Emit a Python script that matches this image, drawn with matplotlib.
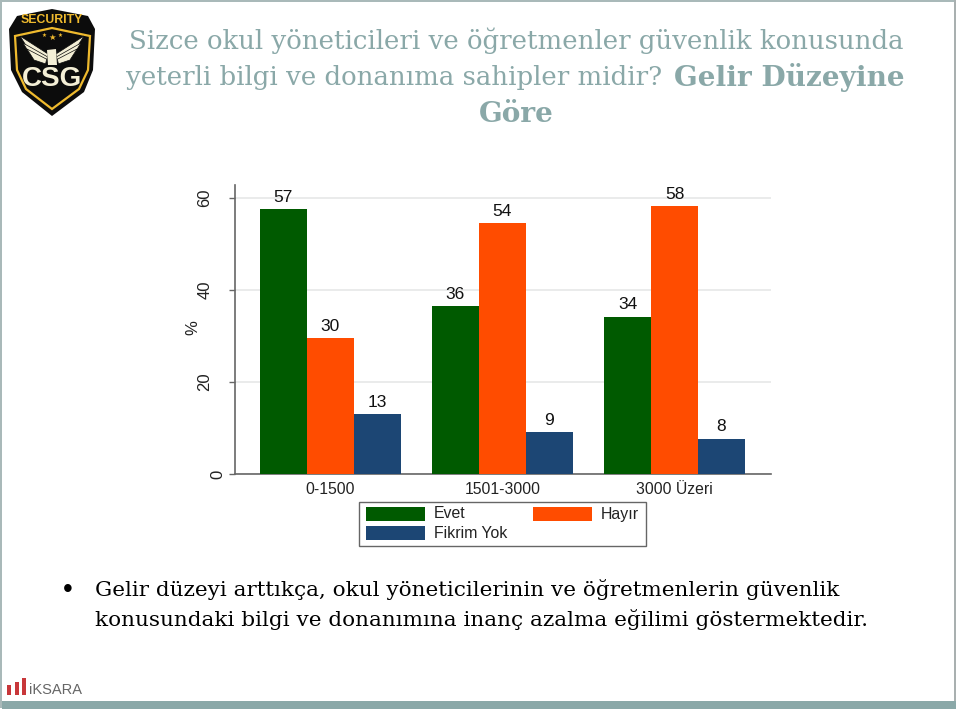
import matplotlib
matplotlib.use("Agg")
import matplotlib.pyplot as plt
from matplotlib.patches import Polygon, Rectangle
from matplotlib.transforms import ScaledTranslation
import numpy as np

# Values
groups = ["0-1500", "1501-3000", "3000 Üzeri"]
evet = [57.5, 36.4, 34.1]
hayir = [29.5, 54.5, 58.2]
fikrim_yok = [13.0, 9.1, 7.6]
evet_labels = ["57", "36", "34"]
hayir_labels = ["30", "54", "58"]
fikrim_yok_labels = ["13", "9", "8"]
y_ticks = [0, 20, 40, 60]

GREEN = "#005a00"
ORANGE = "#ff4c00"
BLUE = "#1c4674"
TITLE_COLOR = "#8aa8a8"
FRAME = "#8aa8a8"
CREAM = "#f4efd6"
GOLD = "#efba2e"

plt.rcParams["font.family"] = ["Liberation Sans", "DejaVu Sans"]

W, H = 960, 712
fig = plt.figure(figsize=(W / 100, H / 100), dpi=100, facecolor="white")

# Overlay in pixel coordinates for the slide decoration and texts
bg = fig.add_axes([0, 0, 1, 1])
bg.set_xlim(0, W)
bg.set_ylim(H, 0)
bg.axis("off")

# Slide frame
bg.add_patch(Rectangle((0, 0), 956, 2, color="#a9b9b9", lw=0))
bg.add_patch(Rectangle((0, 0), 2, 708, color="#a9b9b9", lw=0))
bg.add_patch(Rectangle((954, 0), 2, 708, color="#a9b0b0", lw=0))
bg.add_patch(Rectangle((2, 701), 954, 8, color=FRAME, lw=0))

# CSG logo
shield = [(9, 29), (17, 16), (52, 9), (88, 16), (95, 29), (93, 70), (84, 92), (52, 116), (22, 92), (11, 70)]
bg.add_patch(Polygon(shield, closed=True, fc="#0c0c0c", ec="none"))
inner = [(15, 36), (52, 28), (90, 36), (88, 70), (79, 89), (52, 109), (26, 89), (17, 70)]
bg.add_patch(Polygon(inner, closed=True, fc="none", ec=GOLD, lw=1.6))
bg.text(52, 20, "SECURITY", color=GOLD, fontsize=8.8, fontweight="bold", ha="center", va="center")
for sign in [-1, 1]:
    # Wing feathers, mirrored around the shield centre
    for dx, dy in [(0, 0), (3, 7), (7, 13)]:
        feather = [(52 + sign * (32 - dx), 36 + dy), (52 + sign * (4 + dx * 0.2), 54 + dy * 0.4),
                   (52 + sign * (5 + dx * 0.2), 60 + dy * 0.3), (52 + sign * (25 - dx), 47 + dy)]
        bg.add_patch(Polygon(feather, closed=True, fc=CREAM, ec="#0c0c0c", lw=0.5))
bg.add_patch(Polygon([(47, 50), (56, 49), (57, 65), (48, 65)], closed=True, fc=CREAM, ec="none"))
bg.text(52, 79, "CSG", color=CREAM, fontsize=20, fontweight="bold", ha="center", va="center")
bg.text(52, 37, "★", color=GOLD, fontsize=6, ha="center", va="center", family="DejaVu Sans")
bg.text(44, 35, "★", color=GOLD, fontsize=4, ha="center", va="center", family="DejaVu Sans")
bg.text(60, 35, "★", color=GOLD, fontsize=4, ha="center", va="center", family="DejaVu Sans")

# Title
title_font = dict(color=TITLE_COLOR, family="DejaVu Serif", va="center")
bg.text(516, 41, "Sizce okul yöneticileri ve öğretmenler güvenlik konusunda", fontsize=18.7, ha="center", **title_font)
bg.text(126, 78, "yeterli bilgi ve donanıma sahipler midir?", fontsize=18.7, ha="left", **title_font)
bg.text(905, 78, "Gelir Düzeyine", fontsize=20.1, ha="right", fontweight="bold", **title_font)
bg.text(516, 114, "Göre", fontsize=20.1, ha="center", fontweight="bold", **title_font)

# Bullet text
body_font = dict(color="black", family="DejaVu Serif", fontsize=15.45, va="center", ha="left")
bg.text(63, 590, "•", color="black", fontsize=20, va="center", ha="left")
bg.text(95, 590, "Gelir düzeyi arttıkça, okul yöneticilerinin ve öğretmenlerin güvenlik", **body_font)
bg.text(95, 619, "konusundaki bilgi ve donanımına inanç azalma eğilimi göstermektedir.", **body_font)

# IKSARA logo
logo_heights = [10, 13, 17]
for i, h in enumerate(logo_heights):
    bg.add_patch(Rectangle((7 + i * 7.5, 695 - h), 4, h, color="#c8373a", lw=0))
bg.text(29, 690, "iKSARA", color="#666666", fontsize=10.5, va="center", ha="left")

# Chart
ax = fig.add_axes([235 / W, 1 - 474 / H, (771 - 235) / W, (474 - 185) / H])
ax.set_xlim(-0.555, 2.561)
ax.set_ylim(0, 62.8)

x = np.arange(len(groups))
width = 47 / 172
series = [
    (evet, evet_labels, GREEN, "Evet", -width),
    (hayir, hayir_labels, ORANGE, "Hayır", 0),
    (fikrim_yok, fikrim_yok_labels, BLUE, "Fikrim Yok", width),
]
for values, labels, color, name, offset in series:
    bars = ax.bar(x + offset, values, width, color=color, label=name, zorder=3)
    for bar, label in zip(bars, labels):
        ax.text(bar.get_x() + bar.get_width() / 2, bar.get_height() + 1.0, label,
                ha="center", va="bottom", fontsize=12.5, color="#111111", zorder=4)

ax.set_yticks(y_ticks)
ax.set_yticklabels([str(t) for t in y_ticks], rotation=90, va="center", fontsize=12, color="#222222")
ax.set_xticks(x)
ax.set_xticklabels(groups, fontsize=11.3, color="#222222")
ax.tick_params(axis="x", length=0, pad=6)
ax.tick_params(axis="y", length=4.2, width=1, color="#666666", pad=12)
# The 0 label sits closer to the axis in the original
zero_label = ax.get_yticklabels()[0]
zero_label.set_transform(zero_label.get_transform() + ScaledTranslation(13 / 100, 0, fig.dpi_scale_trans))
ax.grid(axis="y", color="#e4e6e6", lw=1.1, zorder=0)
ax.set_axisbelow(True)
for side in ["top", "right"]:
    ax.spines[side].set_visible(False)
for side in ["left", "bottom"]:
    ax.spines[side].set_color("#666666")
    ax.spines[side].set_linewidth(1.2)
ax.set_ylabel("%", fontsize=12, color="#222222")
ax.yaxis.set_label_coords(-0.064, 0.505)

# Legend box
bg.set_zorder(0)
ax.set_zorder(1)
ax.patch.set_alpha(0)
bg.add_patch(Rectangle((359, 502), 287, 43.5, fc="white", ec="#666666", lw=1.0))
legend_items = [("Evet", GREEN, 366, 507, 434), ("Hayır", ORANGE, 533, 507, 601), ("Fikrim Yok", BLUE, 366, 526, 434)]
for name, color, px, py, tx in legend_items:
    bg.add_patch(Rectangle((px, py), 59, 14, color=color, lw=0))
    bg.text(tx, py + 7, name, fontsize=11.4, color="#222222", va="center", ha="left")

fig.savefig("out.png", dpi=100)
